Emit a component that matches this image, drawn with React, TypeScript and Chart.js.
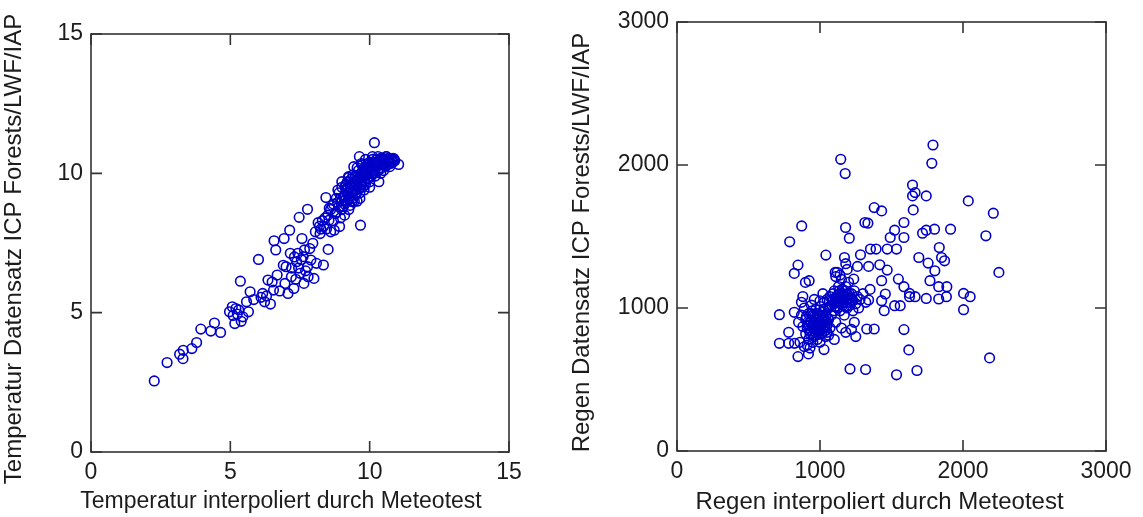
import { useEffect, useRef } from 'react';
import { Chart, registerables } from 'chart.js';

Chart.register(...registerables);

// ---- Left chart: temperature ----
const tempX = [
  2.27, 2.73, 3.18, 3.31, 3.30, 3.62, 3.79, 3.94, 4.30, 4.43, 4.65, 4.97, 5.07, 5.20, 5.16, 5.39, 5.36, 5.58,
  5.65, 5.71, 5.84, 6.01, 6.16, 6.23, 6.35, 6.44, 6.55, 6.57, 6.63, 6.68, 6.77, 6.93, 6.96, 7.00, 7.07, 7.13,
  7.15, 7.19, 7.28, 7.38, 7.42, 7.47, 7.51, 7.57, 7.61, 7.64, 7.66, 7.77, 7.77, 7.79, 7.89, 7.96, 8.00, 8.09,
  8.15, 8.22, 8.34, 8.43, 8.51, 8.54, 8.73, 8.77, 8.86, 8.92, 9.05, 9.11, 9.24, 9.37, 9.43, 9.50, 9.63, 9.67,
  9.69, 9.82, 9.95, 10.17, 10.33, 10.46, 10.59, 10.72, 10.85, 11.04,
  8.6, 8.7, 8.8, 8.8, 8.9, 8.9, 9.0, 9.0, 9.0, 9.1, 9.1, 9.15, 9.2, 9.2, 9.25, 9.3, 9.3, 9.35, 9.4, 9.4,
  9.45, 9.5, 9.5, 9.5, 9.55, 9.6, 9.6, 9.6, 9.65, 9.7, 9.7, 9.75, 9.8, 9.8, 9.85, 9.9, 9.9, 9.95, 10.0, 10.0,
  10.0, 10.05, 10.1, 10.1, 10.15, 10.2, 10.2, 10.25, 10.3, 10.3, 10.35, 10.4, 10.4, 10.45, 10.5, 10.5, 10.55,
  10.6, 10.65, 10.7, 10.75, 10.8, 10.9, 9.3, 9.1, 8.95, 8.7, 8.5, 8.4, 8.3, 8.45, 8.6, 8.2, 9.45, 9.65, 9.8,
  10.0, 9.2, 9.0, 9.55, 9.7, 9.85, 10.1, 10.3, 10.6, 9.4, 9.25,
  5.1, 5.25, 5.3, 5.45, 6.1, 6.3, 6.5, 6.9, 7.2, 7.3, 7.35, 7.45, 7.55, 7.7, 7.85, 8.05, 8.25, 8.35,
  9.05, 9.12, 9.18, 9.28, 9.33, 9.42, 9.48, 9.52, 9.58, 9.62, 9.68, 9.72, 9.78, 9.83, 9.88, 9.92, 9.97, 10.02,
  10.07, 10.12, 10.18, 10.22, 10.27, 10.33, 10.38, 10.42, 10.48, 10.53, 10.58, 10.63, 10.68, 10.73, 10.78,
  10.83, 10.88, 9.15, 9.35, 9.55, 9.75, 9.95, 10.15, 10.35, 10.55, 8.95, 8.85, 8.65, 8.55, 9.22, 9.47, 9.73,
  9.98, 10.24, 10.44
];
const tempY = [
  2.55, 3.21, 3.51, 3.65, 3.35, 3.71, 3.93, 4.41, 4.34, 4.63, 4.29, 5.03, 5.21, 5.15, 4.61, 4.69, 6.13, 5.39,
  5.03, 5.75, 5.47, 6.91, 5.69, 5.39, 6.17, 5.31, 5.81, 7.58, 7.25, 6.35, 5.78, 7.66, 6.05, 6.65, 5.69, 7.96,
  7.13, 6.29, 5.87, 6.83, 7.13, 8.42, 6.41, 7.66, 7.01, 6.05, 7.25, 8.71, 6.65, 6.29, 6.89, 7.49, 6.23, 6.77,
  8.23, 7.84, 6.71, 9.13, 7.27, 8.32, 7.96, 8.56, 9.40, 8.09, 8.80, 9.52, 9.88, 8.98, 10.24, 9.40, 10.60, 8.14,
  9.76, 10.12, 10.36, 11.10, 9.70, 10.48, 10.60, 10.24, 10.54, 10.32,
  8.7, 8.9, 8.6, 9.1, 8.8, 9.3, 9.0, 8.7, 9.5, 9.2, 8.9, 9.6, 9.3, 9.0, 8.7, 9.5, 9.2, 9.8, 9.4, 9.1,
  9.7, 9.6, 9.3, 9.9, 9.0, 9.5, 9.8, 10.1, 9.3, 9.7, 10.0, 9.5, 9.9, 10.2, 9.6, 10.0, 10.3, 9.8, 10.1, 10.4,
  9.7, 9.9, 10.2, 10.5, 10.0, 10.3, 9.9, 10.5, 10.1, 10.4, 10.2, 10.5, 10.0, 10.3, 10.4, 10.1, 10.5,
  10.3, 10.45, 10.5, 10.35, 10.5, 10.45, 8.85, 8.5, 8.4, 8.3, 8.5, 8.4, 8.3, 8.0, 7.9, 8.1, 9.0, 9.1, 9.4,
  9.5, 9.7, 9.7, 10.2, 10.35, 10.5, 10.6, 10.6, 10.6, 9.95, 9.85,
  4.9, 4.95, 5.1, 4.85, 5.55, 5.6, 6.1, 6.7, 6.6, 7.0, 6.2, 6.6, 6.9, 6.5, 7.3, 7.9, 8.0, 8.1,
  9.15, 9.05, 9.45, 9.1, 9.65, 9.35, 9.55, 9.25, 9.75, 9.45, 9.85, 9.6, 10.05, 9.7, 9.95, 10.15, 9.85, 10.25,
  10.0, 10.35, 10.1, 10.4, 10.25, 10.45, 10.15, 10.55, 10.35, 10.5, 10.25, 10.45, 10.55, 10.4, 10.5,
  10.4, 10.5, 9.4, 9.6, 9.75, 9.95, 10.15, 10.3, 10.4, 10.35, 9.1, 8.95, 8.85, 8.75, 9.5, 9.85, 10.3,
  10.25, 10.35, 10.55
];
const tempTicks = [0, 5, 10, 15];

// ---- Right chart: rain ----
const rainX = [
  1790, 1145, 1176, 1782, 1647, 1665, 1647, 1743, 2037, 1379, 1431, 1652, 2212, 872, 1179, 1314, 1335, 1587,
  1522, 1205, 788, 1491, 1587, 1717, 1743, 1801, 1913, 2160, 1041, 1171, 1283, 1353, 1392, 1470, 1535, 1834,
  1691, 1850, 1871, 846, 820, 1262, 1340, 1418, 1756, 2251, 1470, 1803, 1106, 898, 924, 1236, 1431, 1548,
  1769, 1887, 1830, 1587, 1626, 2004, 2050, 1884, 1743, 1830, 1665, 1626, 1457, 1340, 1431, 1522, 1561, 2004,
  1449, 716, 820, 1327, 1379, 1587, 781, 716, 781, 822, 846, 919, 1028, 1621, 2186, 1210, 1319, 1535, 1678,
  850, 870, 880, 890, 900, 900, 910, 920, 920, 930, 940, 940, 950, 950, 960, 960, 970, 970, 980, 980,
  990, 990, 1000, 1000, 1010, 1010, 1020, 1020, 1030, 1030, 1040, 1040, 1050, 1050, 1060, 1060, 1070, 1070,
  1080, 1080, 1090, 1090, 1100, 1100, 1110, 1110, 1120, 1120, 1130, 1130, 1140, 1140, 1150, 1150, 1160, 1160,
  1170, 1170, 1180, 1180, 1190, 1190, 1200, 1200, 1210, 1220, 1230, 1230, 1240, 1250, 1260, 1270, 1280, 1110,
  1120, 1140, 1180, 1190, 870, 880, 860, 890, 910, 930, 950, 1000, 1060, 1100, 1150, 1180, 1240, 1250, 1220,
  960, 1020, 1000, 1300, 1350, 1320,
  915, 925, 935, 945, 955, 965, 975, 985, 995, 1005, 1015, 1025, 1035, 1045, 1055, 935, 955, 975, 995, 1015,
  1035, 905, 945, 985, 1025, 1065, 1085, 1095, 1105, 1115, 1125, 1135, 1145, 1155, 1165, 1175, 1185, 1195,
  1205, 1215, 1225, 1105, 1125, 1145, 1165, 1185, 1205, 1135, 1155, 1175,
  930, 950, 970, 990, 1010, 1030, 1050, 940, 960, 980, 1000, 1020, 1040, 925, 965, 1005, 1045
];
const rainY = [
  2140, 2040, 1940, 2012, 1860, 1807, 1784, 1784, 1749, 1702, 1679, 1686, 1663, 1574, 1563, 1598, 1593, 1598,
  1544, 1488, 1463, 1493, 1493, 1523, 1544, 1551, 1551, 1505, 1370, 1353, 1372, 1412, 1412, 1412, 1412, 1423,
  1353, 1353, 1330, 1300, 1242, 1291, 1291, 1302, 1314, 1249, 1265, 1260, 1249, 1179, 1191, 1202, 1191, 1202,
  1191, 1149, 1149, 1149, 1102, 1102, 1079, 1079, 1067, 1063, 1079, 1079, 1098, 1056, 1051, 1016, 1016, 988,
  981, 953, 970, 853, 853, 849, 830, 753, 753, 753, 660, 679, 709, 707, 651, 574, 570, 533, 563,
  900, 950, 870, 1000, 820, 920, 860, 960, 780, 900, 840, 1020, 880, 950, 800, 920, 860, 990, 900, 780,
  840, 950, 880, 1010, 820, 920, 860, 970, 900, 1040, 800, 950, 880, 1060, 1000, 920, 1080, 860,
  1020, 950, 1100, 1050, 980, 1120, 1040, 900, 1080, 1000, 1150, 1050, 1100, 980, 1060, 1200, 1020, 1120,
  1080, 950, 1040, 1150, 1100, 1000, 1060, 1180, 1020, 1100, 980, 1050, 1120, 1030, 1080, 1000, 1060, 1220,
  1250, 1230, 1310, 1270, 1040, 1080, 760, 730, 740, 720, 760, 760, 810, 780, 860, 830, 900, 800, 850,
  1060, 1100, 1050, 1100, 1130, 1040,
  880, 845, 905, 865, 895, 835, 925, 870, 905, 850, 890, 935, 870, 905, 925, 900, 860, 920, 860, 880,
  840, 940, 980, 960, 990, 1010, 1060, 1030, 1070, 1010, 1090, 1040, 1070, 1100, 1040, 1080, 1060, 1090,
  1040, 1070, 1060, 1010, 1050, 1030, 1090, 1010, 1100, 1120, 1130, 1120,
  820, 810, 830, 815, 825, 840, 830, 960, 940, 925, 950, 930, 945, 880, 870, 865, 875
];
const rainTicks = [0, 1000, 2000, 3000];

const FONT = '"Liberation Sans", Arial, sans-serif';
const TEXT = '#1c1c1c';

interface Titles {
  xTitle: string;
  yTitle: string;
  xOffset: number;
  xTitleY: number;
  xSize: number;
  yTitleX: number;
  yOffset: number;
  ySize: number;
}

function makeFramePlugin(t: Titles) {
  return {
    id: 'frameTicks',
    afterDraw(chart: any) {
      const { ctx, chartArea } = chart;
      const xs = chart.scales.x;
      const ys = chart.scales.y;
      const len = 11;
      ctx.save();
      ctx.strokeStyle = '#333';
      ctx.lineWidth = 1.6;
      ctx.strokeRect(chartArea.left, chartArea.top, chartArea.right - chartArea.left, chartArea.bottom - chartArea.top);
      ctx.beginPath();
      xs.ticks.forEach((tk: any) => {
        const px = xs.getPixelForValue(tk.value);
        ctx.moveTo(px, chartArea.bottom);
        ctx.lineTo(px, chartArea.bottom - len);
        ctx.moveTo(px, chartArea.top);
        ctx.lineTo(px, chartArea.top + len);
      });
      ys.ticks.forEach((tk: any) => {
        const py = ys.getPixelForValue(tk.value);
        ctx.moveTo(chartArea.left, py);
        ctx.lineTo(chartArea.left + len, py);
        ctx.moveTo(chartArea.right, py);
        ctx.lineTo(chartArea.right - len, py);
      });
      ctx.stroke();

      // axis titles
      ctx.fillStyle = TEXT;
      ctx.textAlign = 'center';
      ctx.textBaseline = 'middle';
      ctx.font = `${t.xSize}px ${FONT}`;
      const cx = (chartArea.left + chartArea.right) / 2 + t.xOffset;
      ctx.fillText(t.xTitle, cx, t.xTitleY);
      ctx.font = `${t.ySize}px ${FONT}`;
      const cy = (chartArea.top + chartArea.bottom) / 2 + t.yOffset;
      ctx.translate(t.yTitleX, cy);
      ctx.rotate(-Math.PI / 2);
      ctx.fillText(t.yTitle, 0, 0);
      ctx.restore();
    },
  };
}

interface Spec {
  xs: number[];
  ys: number[];
  ticks: number[];
  titles: Titles;
  pad: { left: number; top: number; right: number; bottom: number };
  yWidth: number;
  xHeight: number;
}

function makeChart(canvas: HTMLCanvasElement, s: Spec) {
  const data = s.xs.map((x, i) => ({ x, y: s.ys[i] }));
  const min = s.ticks[0];
  const max = s.ticks[s.ticks.length - 1];
  const step = s.ticks[1] - s.ticks[0];
  const fmt = (v: any) => String(v);
  return new Chart(canvas, {
    type: 'scatter',
    data: {
      datasets: [
        {
          data,
          pointStyle: 'circle',
          pointRadius: 4.8,
          pointBorderWidth: 1.6,
          borderColor: '#0000c8',
          backgroundColor: 'rgba(0,0,0,0)',
          pointBackgroundColor: 'rgba(0,0,0,0)',
          pointBorderColor: '#0000c8',
        },
      ],
    },
    options: {
      responsive: false,
      animation: false,
      devicePixelRatio: 1,
      layout: { padding: s.pad },
      plugins: { legend: { display: false }, tooltip: { enabled: false } },
      scales: {
        x: {
          type: 'linear',
          min,
          max,
          afterFit: (sc: any) => { sc.height = s.xHeight; },
          afterBuildTicks: (sc: any) => { sc.ticks = s.ticks.map((v) => ({ value: v })); },
          ticks: { stepSize: step, padding: 7, color: TEXT, font: { family: FONT, size: 23 }, maxRotation: 0, callback: fmt },
          grid: { display: false, drawTicks: false },
          border: { display: false },
        },
        y: {
          type: 'linear',
          min,
          max,
          afterFit: (sc: any) => { sc.width = s.yWidth; },
          afterBuildTicks: (sc: any) => { sc.ticks = s.ticks.map((v) => ({ value: v })); },
          ticks: { stepSize: step, padding: 8, color: TEXT, font: { family: FONT, size: 23 }, callback: fmt },
          grid: { display: false, drawTicks: false },
          border: { display: false },
        },
      },
    },
    plugins: [makeFramePlugin(s.titles)],
  } as any);
}

export default function App() {
  const leftRef = useRef<HTMLCanvasElement>(null);
  const rightRef = useRef<HTMLCanvasElement>(null);

  useEffect(() => {
    const c1 = makeChart(leftRef.current!, {
      xs: tempX,
      ys: tempY,
      ticks: tempTicks,
      titles: {
        xTitle: 'Temperatur interpoliert durch Meteotest',
        yTitle: 'Temperatur Datensatz ICP Forests/LWF/IAP',
        xOffset: -19,
        xTitleY: 502,
        xSize: 23,
        yTitleX: 14,
        yOffset: 6,
        ySize: 24,
      },
      pad: { left: 0, top: 34, right: 51, bottom: 0 },
      yWidth: 91,
      xHeight: 65,
    });
    const c2 = makeChart(rightRef.current!, {
      xs: rainX,
      ys: rainY,
      ticks: rainTicks,
      titles: {
        xTitle: 'Regen interpoliert durch Meteotest',
        yTitle: 'Regen Datensatz ICP Forests/LWF/IAP',
        xOffset: -12,
        xTitleY: 502,
        xSize: 24,
        yTitleX: 22,
        yOffset: 6,
        ySize: 24,
      },
      pad: { left: 0, top: 22, right: 37, bottom: 0 },
      yWidth: 117,
      xHeight: 66,
    });
    return () => {
      c1.destroy();
      c2.destroy();
    };
  }, []);

  return (
    <div style={{ position: 'absolute', left: 0, top: 0, width: 1143, height: 517, background: '#fff' }}>
      <canvas ref={leftRef} width={560} height={517} style={{ position: 'absolute', left: 0, top: 0 }} />
      <canvas ref={rightRef} width={583} height={517} style={{ position: 'absolute', left: 560, top: 0 }} />
    </div>
  );
}
